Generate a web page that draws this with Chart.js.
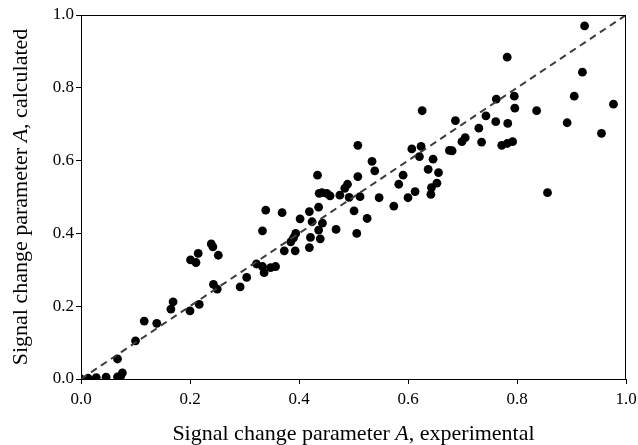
<!DOCTYPE html>
<html>
<head>
<meta charset="utf-8">
<script src="https://cdn.jsdelivr.net/npm/chart.js@4.4.0/dist/chart.umd.min.js"></script>
<style>
  html, body { margin: 0; padding: 0; background: #fff; }
  #wrap { width: 638px; height: 445px; }
</style>
</head>
<body>
<div id="wrap"><canvas id="chart"></canvas></div>
<script>
// experimental vs calculated signal change parameter A
const expA = [
  0.000, 0.013, 0.028, 0.046, 0.067, 0.067, 0.076, 0.073, 0.100, 0.116,
  0.139, 0.165, 0.169, 0.200, 0.217, 0.201, 0.211, 0.215, 0.239, 0.242,
  0.252, 0.243, 0.250, 0.292, 0.304, 0.322, 0.333, 0.336, 0.348, 0.357,
  0.333, 0.339, 0.369, 0.373, 0.385, 0.390, 0.394, 0.393, 0.402, 0.419,
  0.421, 0.419, 0.424, 0.434, 0.437, 0.436, 0.436, 0.626, 0.508, 0.607,
  0.624, 0.621, 0.676, 0.646, 0.534, 0.539, 0.637, 0.656, 0.591, 0.508,
  0.583, 0.653, 0.643, 0.642, 0.613, 0.600, 0.489, 0.484, 0.475, 0.492,
  0.512, 0.547, 0.574, 0.442, 0.451, 0.457, 0.501, 0.525, 0.443, 0.468,
  0.506, 0.439, 0.924, 0.782, 0.920, 0.795, 0.762, 0.905, 0.977, 0.836,
  0.796, 0.743, 0.687, 0.761, 0.783, 0.892, 0.730, 0.955, 0.705, 0.699,
  0.735, 0.772, 0.782, 0.792, 0.681, 0.856
];
const calcA = [
  0.000, 0.002, 0.004, 0.005, 0.006, 0.055, 0.017, 0.008, 0.105, 0.159,
  0.153, 0.192, 0.212, 0.187, 0.205, 0.327, 0.320, 0.345, 0.371, 0.363,
  0.340, 0.260, 0.247, 0.253, 0.279, 0.316, 0.309, 0.292, 0.306, 0.309,
  0.407, 0.464, 0.457, 0.352, 0.377, 0.388, 0.400, 0.352, 0.440, 0.361,
  0.389, 0.460, 0.432, 0.560, 0.510, 0.472, 0.409, 0.737, 0.642, 0.632,
  0.639, 0.611, 0.628, 0.604, 0.598, 0.572, 0.576, 0.567, 0.560, 0.556,
  0.535, 0.538, 0.526, 0.507, 0.515, 0.498, 0.535, 0.524, 0.505, 0.499,
  0.501, 0.498, 0.475, 0.512, 0.510, 0.503, 0.462, 0.441, 0.428, 0.411,
  0.400, 0.385, 0.970, 0.884, 0.843, 0.777, 0.769, 0.777, 0.755, 0.737,
  0.744, 0.723, 0.710, 0.707, 0.702, 0.704, 0.689, 0.675, 0.663, 0.652,
  0.651, 0.642, 0.647, 0.652, 0.627, 0.512
];
const identityLine = [0, 1];
const xTitle = ['Signal change parameter ', 'A', ', experimental'];
const yTitle = ['Signal change parameter ', 'A', ', calculated'];

const serif = '"Liberation Serif", "Times New Roman", serif';

// draws a title with the middle piece in italics, centred on (0,0)
function drawTitle(ctx, parts) {
  const fonts = ['22px ' + serif, 'italic 22px ' + serif, '22px ' + serif];
  let total = 0;
  const widths = parts.map((p, i) => { ctx.font = fonts[i]; const w = ctx.measureText(p).width; total += w; return w; });
  let x = -total / 2;
  parts.forEach((p, i) => {
    ctx.font = fonts[i];
    ctx.fillText(p, x, 0);
    x += widths[i];
  });
}

const framePlugin = {
  id: 'frame',
  afterDraw(chart) {
    const { ctx, chartArea: a } = chart;
    ctx.save();
    ctx.strokeStyle = '#000';
    ctx.lineWidth = 1;
    ctx.strokeRect(a.left + 0.5, a.top + 0.5, a.right - a.left - 1, a.bottom - a.top);
    ctx.fillStyle = '#000';
    ctx.textBaseline = 'middle';
    ctx.textAlign = 'left';
    ctx.save();
    ctx.translate((a.left + a.right) / 2, 434);
    drawTitle(ctx, xTitle);
    ctx.restore();
    ctx.save();
    ctx.translate(21, (a.top + a.bottom) / 2);
    ctx.rotate(-Math.PI / 2);
    drawTitle(ctx, yTitle);
    ctx.restore();
    ctx.restore();
  }
};

const axisStyle = {
  type: 'linear',
  min: 0,
  max: 1,
  ticks: {
    stepSize: 0.2,
    color: '#000',
    padding: 2,
    font: { family: serif, size: 17 },
    callback: v => v.toFixed(1)
  },
  grid: { display: true, drawOnChartArea: false, tickLength: 5, color: '#000' },
  border: { display: true, color: '#000' }
};

new Chart(document.getElementById('chart'), {
  type: 'scatter',
  data: {
    datasets: [
      {
        type: 'line',
        data: identityLine.map(v => ({ x: v, y: v })),
        borderColor: '#3c3c3c',
        borderWidth: 2,
        borderDash: [7, 5],
        pointRadius: 0,
        fill: false
      },
      {
        data: expA.map((v, i) => ({ x: v, y: calcA[i] })),
        backgroundColor: '#000',
        borderWidth: 0,
        pointRadius: 4.4,
        pointHoverRadius: 4.4
      }
    ]
  },
  options: {
    responsive: true,
    maintainAspectRatio: false,
    animation: false,
    layout: { padding: { top: 15, right: 12, left: 0, bottom: 0 } },
    plugins: { legend: { display: false }, tooltip: { enabled: false } },
    scales: {
      x: Object.assign({}, axisStyle, {
        ticks: Object.assign({}, axisStyle.ticks, { padding: 5 }),
        afterFit: s => { s.height = 66; s.paddingLeft = 0; s.paddingRight = 0; }
      }),
      y: Object.assign({}, axisStyle, {
        afterFit: s => { s.width = 81; s.paddingTop = 0; s.paddingBottom = 0; }
      })
    }
  },
  plugins: [framePlugin]
});
</script>
</body>
</html>
